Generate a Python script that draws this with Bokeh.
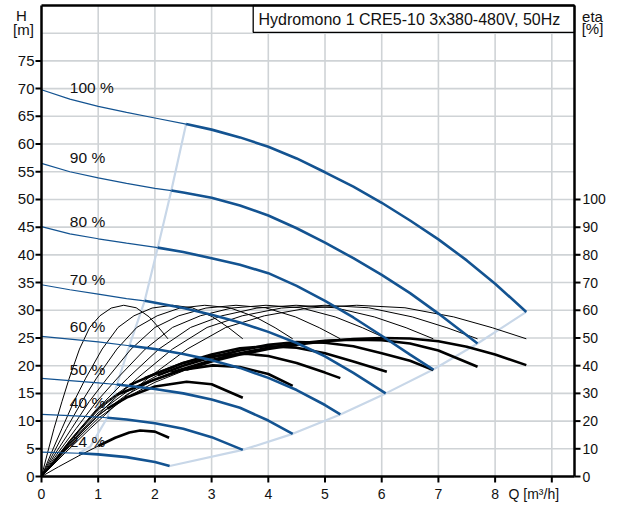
from bokeh.plotting import figure
from bokeh.models import Range1d
from bokeh.core.properties import value
from bokeh.embed import file_html
from bokeh.resources import INLINE

TITLE = "Hydromono 1 CRE5-10 3x380-480V, 50Hz"
SPEEDS = ["100 %", "90 %", "80 %", "70 %", "60 %", "50 %", "40 %", "24 %"]

# Pump curves H [m] vs Q [m3/h]; PMIN = index where operating range starts
PQ = {
    "100": [0, 0.5, 1, 1.5, 2, 2.55, 3, 3.5, 4, 4.5, 5, 5.5, 6, 6.5, 7, 7.5, 8, 8.55],
    "90": [0, 0.5, 1, 1.5, 2, 2.29, 2.5, 3, 3.5, 4, 4.5, 5, 5.5, 6, 6.5, 7, 7.69],
    "80": [0, 0.5, 1, 1.5, 2.05, 2.5, 3, 3.5, 4, 4.5, 5, 5.5, 6, 6.5, 6.91],
    "70": [0, 0.5, 1, 1.5, 1.82, 2.5, 3, 3.5, 4, 4.5, 5, 5.5, 6.07],
    "60": [0, 0.5, 1, 1.55, 2, 2.5, 3, 3.5, 4, 4.5, 5, 5.27],
    "50": [0, 0.5, 1, 1.33, 2, 2.5, 3, 3.5, 4, 4.43],
    "40": [0, 0.5, 1, 1.16, 1.5, 2, 2.5, 3, 3.55],
    "24": [0, 0.3, 0.66, 1, 1.5, 2, 2.26],
}
PH = {
    "100": [69.8, 68.1, 66.8, 65.7, 64.7, 63.6, 62.6, 61.2, 59.5, 57.4, 54.9, 52.3, 49.4, 46.2, 42.8, 39.0, 34.8, 29.7],
    "90": [56.5, 55.0, 53.9, 52.9, 52.0, 51.6, 51.25, 50.3, 48.9, 47.1, 44.8, 42.2, 39.4, 36.4, 33.1, 29.4, 24.0],
    "80": [45.1, 43.8, 42.9, 42.1, 41.3, 40.5, 39.4, 38.2, 36.7, 34.4, 31.7, 28.7, 25.4, 22.0, 19.3],
    "70": [34.6, 33.7, 32.9, 32.1, 31.7, 30.4, 29.2, 27.8, 26.1, 24.1, 21.7, 18.7, 15.0],
    "60": [25.3, 24.8, 24.3, 23.6, 23.0, 22.1, 21.0, 19.6, 17.8, 15.6, 12.9, 11.2],
    "50": [17.7, 17.3, 16.9, 16.6, 15.8, 15.0, 13.9, 12.4, 10.1, 7.7],
    "40": [11.2, 11.0, 10.7, 10.6, 10.3, 9.6, 8.6, 7.1, 4.8],
    "24": [4.4, 4.3, 4.2, 4.0, 3.5, 2.6, 1.9],
}
PMIN = {"100": 5, "90": 5, "80": 4, "70": 4, "60": 3, "50": 3, "40": 3, "24": 2}

# Pump efficiency [%] (thin curves)
EQ = {
    "100": [0, 0.43, 0.86, 1.37, 1.88, 2.57, 3.25, 3.93, 4.70, 5.56, 6.41, 7.27, 7.95, 8.55],
    "90": [0, 0.38, 0.77, 1.23, 1.69, 2.31, 2.92, 3.54, 4.23, 5.00, 5.77, 6.54, 7.15, 7.69],
    "80": [0, 0.35, 0.69, 1.11, 1.52, 2.07, 2.63, 3.18, 3.80, 4.49, 5.18, 5.87, 6.43, 6.91],
    "70": [0, 0.30, 0.61, 0.97, 1.34, 1.83, 2.31, 2.80, 3.35, 3.96, 4.57, 5.18, 5.66, 6.09],
    "60": [0, 0.26, 0.53, 0.84, 1.16, 1.58, 2.00, 2.42, 2.90, 3.43, 3.95, 4.48, 4.90, 5.27],
    "50": [0, 0.22, 0.44, 0.71, 0.97, 1.33, 1.68, 2.04, 2.44, 2.88, 3.32, 3.77, 4.12, 4.43],
    "40": [0, 0.18, 0.36, 0.57, 0.78, 1.07, 1.35, 1.63, 1.95, 2.31, 2.66, 3.02, 3.30, 3.55],
    "24": [0, 0.11, 0.22, 0.36, 0.49, 0.67, 0.85, 1.03, 1.23, 1.45, 1.67, 1.90, 2.07, 2.23],
}
EV = [0, 8.8, 17.3, 27, 35.5, 46, 53.8, 58, 60.8, 61.8, 60.9, 57.6, 53.7, 49.7]

# Total efficiency [%] (thin, then thick in operating range)
TQ = {
    "100": [0, 0.5, 1, 1.5, 2, 2.55, 3, 3.5, 4, 4.5, 5, 5.5, 6, 6.5, 7, 7.5, 8, 8.55],
    "90": [0, 0.5, 1, 1.5, 2, 2.29, 3, 3.5, 4, 4.5, 5, 5.5, 6, 6.5, 7, 7.69],
    "80": [0, 0.5, 1, 1.5, 2.05, 2.5, 3, 3.5, 4, 4.5, 5, 5.5, 6, 6.5, 6.91],
    "70": [0, 0.5, 1, 1.5, 1.82, 2.5, 3, 3.5, 4, 4.5, 5, 5.5, 6.09],
    "60": [0, 0.5, 1, 1.55, 2, 2.5, 3, 3.6, 4, 4.5, 5, 5.27],
    "50": [0, 0.5, 1, 1.33, 2, 2.5, 3.02, 3.5, 4, 4.43],
    "40": [0, 0.5, 1, 1.16, 1.5, 2, 2.56, 3, 3.55],
    "24": [0, 0.3, 0.66, 1.0, 1.3, 1.55, 1.74, 2.0, 2.25],
}
TV = {
    "100": [0, 11, 21, 28.5, 34, 38.5, 41.5, 44, 46, 47.6, 48.8, 49.6, 50, 49.8, 48.8, 46.8, 44, 40.2],
    "90": [0, 11.5, 22, 29.5, 35, 37.5, 42, 44.5, 46.5, 48, 49, 49.4, 49.2, 48, 45.5, 39.6],
    "80": [0, 12, 23, 30.5, 36.5, 40, 43, 45.5, 47.5, 48.5, 48.3, 47, 44.5, 41.8, 38.4],
    "70": [0, 12.5, 24, 32, 35.5, 41, 44, 46.3, 47, 46.5, 44.5, 41.5, 37.8],
    "60": [0, 13, 25, 33, 37, 41, 43.5, 44.3, 43.5, 41, 37.5, 35.5],
    "50": [0, 13, 24.5, 29.5, 35, 38.5, 40.1, 39.5, 37, 32.7],
    "40": [0, 12, 22, 24.5, 28.5, 32.5, 34.2, 33.3, 28.4],
    "24": [0, 3.5, 7.5, 11, 14, 15.9, 16.6, 16.2, 14.0],
}
TMIN = {"100": 5, "90": 5, "80": 4, "70": 4, "60": 3, "50": 3, "40": 3, "24": 3}

# light blue operating range limits
UQ = [0.66, 0.86, 1.16, 1.33, 1.55, 1.82, 2.05, 2.29, 2.55]
UH = [4.2, 5.4, 10.6, 16.6, 23.6, 31.7, 41.3, 51.6, 63.6]
LQ = [2.26, 3.55, 4.43, 5.27, 6.07, 6.91, 7.69, 8.55]
LH = [1.9, 4.8, 7.7, 11.2, 15.0, 19.3, 24.0, 29.7]

X_TICKS = list(range(0, 10))
X_LABELS = ["0", "1", "2", "3", "4", "5", "6", "7", "8", ""]
H_TICKS = list(range(0, 80, 5))
ETA_TICKS = list(range(0, 101, 10))
GRID_H = list(range(5, 85, 5))

# ---- layout (pixel geometry of the canvas) ----
W, HGT = 606, 502
FR_L, FR_R = 41.0, 574.0      # frame left/right in px
FR_T, FR_B = 5.0, 476.0       # frame top/bottom in px
QMAX, HMAX = 9.4, 85.0
PXQ = (FR_R - FR_L) / QMAX
PXH = (FR_B - FR_T) / HMAX


def qx(px):
    return (px - FR_L) / PXQ


def hy(py):
    return (FR_B - py) / PXH


BLUE = "#135391"
LIGHT = "#c8d7e8"
GRID = "#cfd3d6"
TXT = "#111111"
FONT = "Liberation Sans"

p = figure(width=W, height=HGT, x_range=Range1d(qx(0), qx(W)), y_range=Range1d(hy(HGT), hy(0)),
           output_backend="svg", toolbar_location=None, x_axis_type=None, y_axis_type=None,
           min_border=0)
p.extra_y_ranges = {"eta": Range1d(2 * hy(HGT), 2 * hy(0))}
p.outline_line_color = None
p.background_fill_color = "white"
p.border_fill_color = "white"

# grid
p.segment(x0=X_TICKS[1:], x1=X_TICKS[1:], y0=[0] * 9, y1=[HMAX] * 9, line_color=GRID, line_width=1.6)
p.segment(x0=[0] * len(GRID_H), x1=[QMAX] * len(GRID_H), y0=GRID_H, y1=GRID_H,
          line_color=GRID, line_width=1.6)

# light blue limits
p.line(UQ, UH, line_color=LIGHT, line_width=2.2)
p.line(LQ, LH, line_color=LIGHT, line_width=2.2)

# pump efficiency (thin)
for k in EQ:
    p.line(EQ[k], EV, line_color="black", line_width=1, y_range_name="eta")

# total efficiency
for k in TQ:
    i = TMIN[k]
    p.line(TQ[k][:i + 1], TV[k][:i + 1], line_color="black", line_width=1, y_range_name="eta")
    p.line(TQ[k][i:], TV[k][i:], line_color="black", line_width=2.6, y_range_name="eta")

# pump curves
for k in PQ:
    i = PMIN[k]
    p.line(PQ[k][:i + 1], PH[k][:i + 1], line_color=BLUE, line_width=1.2)
    p.line(PQ[k][i:], PH[k][i:], line_color=BLUE, line_width=2.6)

# speed labels
LAB_Y = [70.2, 57.6, 46.1, 35.5, 27.0, 19.3, 13.3, 6.3]
p.text(x=[0.5] * len(SPEEDS), y=LAB_Y, text=SPEEDS, text_font=value(FONT),
       text_font_size="15.5px", text_color=TXT, text_baseline="middle", text_align="left")

# title box
p.quad(left=[qx(252.7)], right=[QMAX], bottom=[80.15], top=[HMAX], fill_color="white",
       line_color="black", line_width=1.3)
p.text(x=[qx(258)], y=[82.55], text=[TITLE], text_font=value(FONT), text_font_size="16px",
       text_color=TXT, text_baseline="middle", text_align="left")

# frame / axes lines
p.segment(x0=[0, 0, QMAX, 0], x1=[0, QMAX, QMAX, QMAX], y0=[0, 0, 0, HMAX], y1=[HMAX, 0, HMAX, HMAX],
          line_color="black", line_width=2.5)

TICK = 6.0
# left ticks + labels
p.segment(x0=[0] * len(H_TICKS), x1=[qx(FR_L - TICK)] * len(H_TICKS), y0=H_TICKS, y1=H_TICKS,
          line_color="black", line_width=2)
p.text(x=[qx(34)] * len(H_TICKS), y=H_TICKS, text=[str(t) for t in H_TICKS], text_font=value(FONT),
       text_font_size="15px", text_color=TXT, text_baseline="middle", text_align="right")
# right ticks + labels (eta)
p.segment(x0=[QMAX] * len(ETA_TICKS), x1=[qx(FR_R + TICK)] * len(ETA_TICKS), y0=ETA_TICKS, y1=ETA_TICKS,
          line_color="black", line_width=2, y_range_name="eta")
p.text(x=[qx(FR_R + 8)] * len(ETA_TICKS), y=ETA_TICKS, text=[str(t) for t in ETA_TICKS],
       text_font=value(FONT), text_font_size="14px", text_color=TXT, text_baseline="middle",
       text_align="left", y_range_name="eta")
# bottom ticks + labels
p.segment(x0=X_TICKS, x1=X_TICKS, y0=[0] * len(X_TICKS), y1=[hy(FR_B + TICK)] * len(X_TICKS),
          line_color="black", line_width=2)
p.text(x=X_TICKS, y=[hy(493)] * len(X_TICKS), text=X_LABELS, text_font=value(FONT),
       text_font_size="14px", text_color=TXT, text_baseline="alphabetic", text_align="center")

# axis titles
p.text(x=[qx(21), qx(23)], y=[hy(15), hy(29)], text=["H", "[m]"], text_font=value(FONT),
       text_font_size="15px", text_color=TXT, text_baseline="middle", text_align="center")
p.text(x=[qx(592), qx(592)], y=[hy(16), hy(28)], text=["eta", "[%]"], text_font=value(FONT),
       text_font_size="15px", text_color=TXT, text_baseline="middle", text_align="center")
p.text(x=[qx(508)], y=[hy(493)], text=["Q [m³/h]"], text_font=value(FONT),
       text_font_size="14px", text_color=TXT, text_baseline="alphabetic", text_align="left")

open("out.html", "w").write(file_html(p, INLINE))
